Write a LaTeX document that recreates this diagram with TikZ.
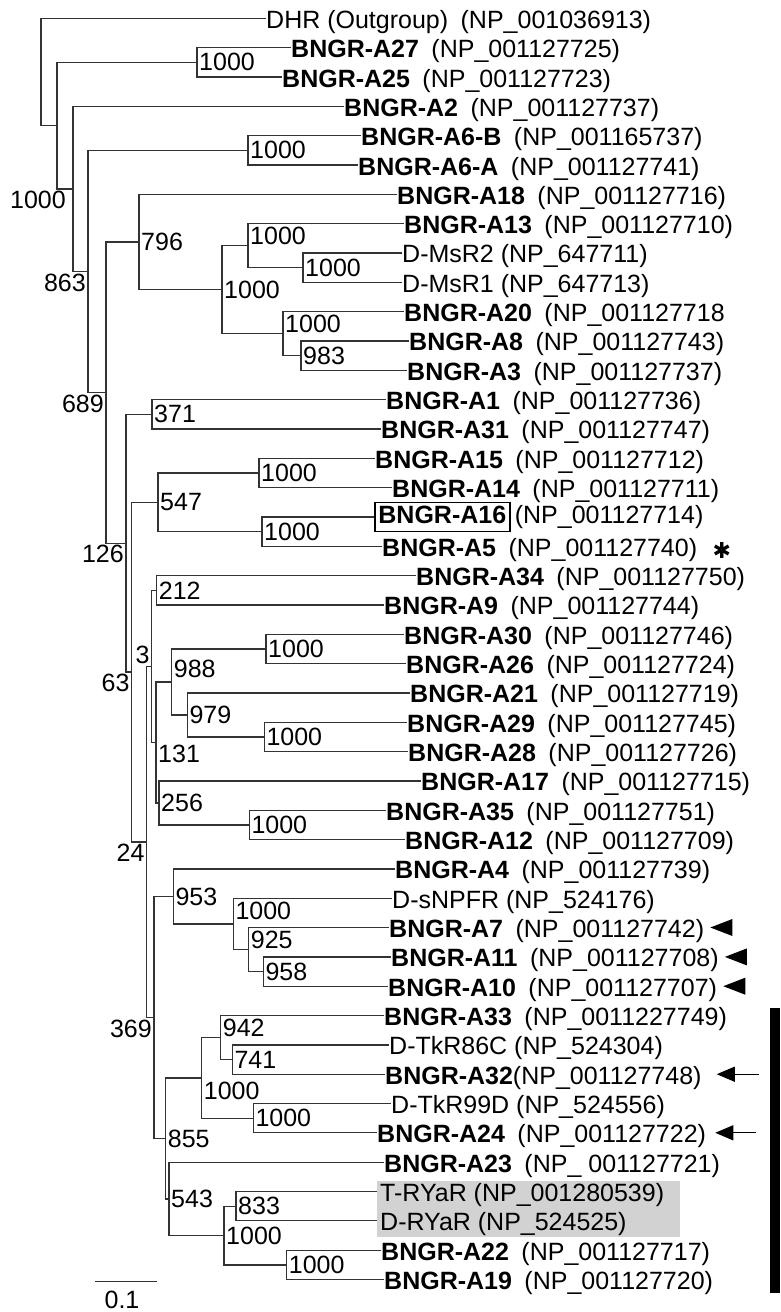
\documentclass[tikz,border=0pt]{standalone}
\usepackage{fontspec}
\setmainfont{Liberation Sans}
\newfontfamily\dejavu{DejaVu Sans}
\usetikzlibrary{positioning,arrows.meta}

\tikzset{
  branch/.style={draw=black!80, line width=1.3pt},
  leaf/.style={anchor=west, inner sep=0pt, text height=20pt, text depth=0pt},
  boot/.style={inner sep=2pt},
  tagged/.style={draw, line width=1.8pt, anchor=west, inner xsep=3.5pt, inner ysep=3.5pt, text height=18pt, text depth=4pt},
  pointer/.pic={\fill (0,0) -- (22,-8.5) -- (22,8.5) -- cycle;},
  mark arrow/.style={line width=1.3pt, -{Triangle[length=18pt,width=15pt]}},
}

\begin{document}
\begin{tikzpicture}[x=1pt,y=-1pt,font=\fontsize{25}{30}\selectfont]
  \useasboundingbox (0,0) rectangle (780,1312);
  \fill[gray!35] (377,1181) rectangle (680,1237);

  % leaves
  \node[leaf] (dhr) at (266,18.3) {DHR (Outgroup)\hspace{0.5em}(NP\_001036913)};
  \node[leaf] (a27) at (291,47.6) {\textbf{BNGR-A27}\hspace{0.5em}(NP\_001127725)};
  \node[leaf] (a25) at (282,77.0) {\textbf{BNGR-A25}\hspace{0.5em}(NP\_001127723)};
  \node[leaf] (a2) at (344,106.3) {\textbf{BNGR-A2}\hspace{0.5em}(NP\_001127737)};
  \node[leaf] (a6b) at (361,135.6) {\textbf{BNGR-A6-B}\hspace{0.5em}(NP\_001165737)};
  \node[leaf] (a6a) at (358,165.0) {\textbf{BNGR-A6-A}\hspace{0.5em}(NP\_001127741)};
  \node[leaf] (a18) at (397,194.3) {\textbf{BNGR-A18}\hspace{0.5em}(NP\_001127716)};
  \node[leaf] (a13) at (404,223.6) {\textbf{BNGR-A13}\hspace{0.5em}(NP\_001127710)};
  \node[leaf] (msr2) at (402,252.9) {D-MsR2 (NP\_647711)};
  \node[leaf] (msr1) at (402,282.3) {D-MsR1 (NP\_647713)};
  \node[leaf] (a20) at (404,311.6) {\textbf{BNGR-A20}\hspace{0.5em}(NP\_001127718};
  \node[leaf] (a8) at (409,340.9) {\textbf{BNGR-A8}\hspace{0.5em}(NP\_001127743)};
  \node[leaf] (a3) at (407,370.3) {\textbf{BNGR-A3}\hspace{0.5em}(NP\_001127737)};
  \node[leaf] (a1) at (386,399.6) {\textbf{BNGR-A1}\hspace{0.5em}(NP\_001127736)};
  \node[leaf] (a31) at (381,428.9) {\textbf{BNGR-A31}\hspace{0.5em}(NP\_001127747)};
  \node[leaf] (a15) at (375,458.3) {\textbf{BNGR-A15}\hspace{0.5em}(NP\_001127712)};
  \node[leaf] (a14) at (392,487.6) {\textbf{BNGR-A14}\hspace{0.5em}(NP\_001127711)};
  \node[tagged] (a16) at (374,516.9) {\textbf{BNGR-A16}};
  \node[leaf, base right=4pt of a16] (a16id) {(NP\_001127714)};
  \node[leaf] (a5) at (382,546.2) {\textbf{BNGR-A5}\hspace{0.5em}(NP\_001127740)};
  \node[leaf] (a34) at (416,575.6) {\textbf{BNGR-A34}\hspace{0.5em}(NP\_001127750)};
  \node[leaf] (a9) at (384,604.9) {\textbf{BNGR-A9}\hspace{0.5em}(NP\_001127744)};
  \node[leaf] (a30) at (404,634.2) {\textbf{BNGR-A30}\hspace{0.5em}(NP\_001127746)};
  \node[leaf] (a26) at (406,663.6) {\textbf{BNGR-A26}\hspace{0.5em}(NP\_001127724)};
  \node[leaf] (a21) at (410,692.9) {\textbf{BNGR-A21}\hspace{0.5em}(NP\_001127719)};
  \node[leaf] (a29) at (407,722.2) {\textbf{BNGR-A29}\hspace{0.5em}(NP\_001127745)};
  \node[leaf] (a28) at (408,751.6) {\textbf{BNGR-A28}\hspace{0.5em}(NP\_001127726)};
  \node[leaf] (a17) at (421,780.9) {\textbf{BNGR-A17}\hspace{0.5em}(NP\_001127715)};
  \node[leaf] (a35) at (386,810.2) {\textbf{BNGR-A35}\hspace{0.5em}(NP\_001127751)};
  \node[leaf] (a12) at (405,839.5) {\textbf{BNGR-A12}\hspace{0.5em}(NP\_001127709)};
  \node[leaf] (a4) at (395,868.9) {\textbf{BNGR-A4}\hspace{0.5em}(NP\_001127739)};
  \node[leaf] (snpfr) at (392,898.2) {D-sNPFR (NP\_524176)};
  \node[leaf] (a7) at (389,927.5) {\textbf{BNGR-A7}\hspace{0.5em}(NP\_001127742)};
  \node[leaf] (a11) at (391,956.9) {\textbf{BNGR-A11}\hspace{0.5em}(NP\_001127708)};
  \node[leaf] (a10) at (388,986.2) {\textbf{BNGR-A10}\hspace{0.5em}(NP\_001127707)};
  \node[leaf] (a33) at (384,1015.5) {\textbf{BNGR-A33}\hspace{0.5em}(NP\_0011227749)};
  \node[leaf] (tkr86c) at (389,1044.9) {D-TkR86C (NP\_524304)};
  \node[leaf] (a32) at (385,1074.2) {\textbf{BNGR-A32}(NP\_001127748)};
  \node[leaf] (tkr99d) at (391,1103.5) {D-TkR99D (NP\_524556)};
  \node[leaf] (a24) at (377,1132.8) {\textbf{BNGR-A24}\hspace{0.5em}(NP\_001127722)};
  \node[leaf] (a23) at (384,1162.2) {\textbf{BNGR-A23}\hspace{0.5em}(NP\_ 001127721)};
  \node[leaf, inner xsep=3pt] (trya) at (377,1191.5) {T-RYaR (NP\_001280539)};
  \node[leaf, inner xsep=3pt] (drya) at (377,1220.8) {D-RYaR (NP\_524525)};
  \node[leaf] (a22) at (381,1250.2) {\textbf{BNGR-A22}\hspace{0.5em}(NP\_001127717)};
  \node[leaf] (a19) at (384,1279.5) {\textbf{BNGR-A19}\hspace{0.5em}(NP\_001127720)};

  % internal nodes
  \coordinate (root) at (41,72);
  \coordinate (v1) at (57,125.6);
  \coordinate (v2) at (197,62.3);
  \coordinate (v1000r) at (73,188.9);
  \coordinate (v863) at (88,271.5);
  \coordinate (va6) at (248,150.3);
  \coordinate (v689) at (106,392.6);
  \coordinate (v796) at (139,242);
  \coordinate (vms) at (222,289.6);
  \coordinate (v13) at (248,245.6);
  \coordinate (vmsr) at (303,267.6);
  \coordinate (v20) at (283,333.6);
  \coordinate (v8) at (301,355.6);
  \coordinate (v126) at (126,543.2);
  \coordinate (v371) at (152,414.3);
  \coordinate (v63) at (131.7,672.1);
  \coordinate (v547) at (158,502.3);
  \coordinate (v15) at (259,473);
  \coordinate (v16) at (262,531.6);
  \coordinate (v24) at (146.7,841.9);
  \coordinate (v3) at (151.7,666.4);
  \coordinate (v212) at (156.7,590.3);
  \coordinate (v131) at (156,742.4);
  \coordinate (v988) at (171.7,681.9);
  \coordinate (v30) at (266,648.9);
  \coordinate (v979) at (187.3,714.9);
  \coordinate (v29) at (264.3,736.9);
  \coordinate (v256) at (159,802.9);
  \coordinate (v35) at (249.3,824.9);
  \coordinate (v369) at (154,1017.4);
  \coordinate (v953) at (173.3,896.4);
  \coordinate (v1000a) at (233.3,923.9);
  \coordinate (v925) at (248.7,949.6);
  \coordinate (v958) at (263.3,971.6);
  \coordinate (v855) at (165.7,1138.4);
  \coordinate (v1000b) at (201.7,1077.9);
  \coordinate (v942) at (220.7,1037.6);
  \coordinate (v741) at (232.3,1059.6);
  \coordinate (v99d) at (253.3,1118.2);
  \coordinate (v543) at (169,1198.9);
  \coordinate (v1000c) at (224,1235.5);
  \coordinate (v833) at (236,1206.2);
  \coordinate (v22) at (286.7,1264.9);

  % branches
  \draw[branch] (root) |- (dhr.west) (root) |- (v1);
  \draw[branch] (v1) |- (v2) (v1) |- (v1000r);
  \draw[branch] (v2) |- (a27.west) (v2) |- (a25.west);
  \draw[branch] (v1000r) |- (a2.west) (v1000r) |- (v863);
  \draw[branch] (v863) |- (va6) (v863) |- (v689);
  \draw[branch] (va6) |- (a6b.west) (va6) |- (a6a.west);
  \draw[branch] (v689) |- (v796) (v689) |- (v126);
  \draw[branch] (v796) |- (a18.west) (v796) |- (vms);
  \draw[branch] (vms) |- (v13) (vms) |- (v20);
  \draw[branch] (v13) |- (a13.west) (v13) |- (vmsr);
  \draw[branch] (vmsr) |- (msr2.west) (vmsr) |- (msr1.west);
  \draw[branch] (v20) |- (a20.west) (v20) |- (v8);
  \draw[branch] (v8) |- (a8.west) (v8) |- (a3.west);
  \draw[branch] (v126) |- (v371) (v126) |- (v63);
  \draw[branch] (v371) |- (a1.west) (v371) |- (a31.west);
  \draw[branch] (v63) |- (v547) (v63) |- (v24);
  \draw[branch] (v547) |- (v15) (v547) |- (v16);
  \draw[branch] (v15) |- (a15.west) (v15) |- (a14.west);
  \draw[branch] (v16) |- (a16.west) (v16) |- (a5.west);
  \draw[branch] (v24) |- (v3) (v24) |- (v369);
  \draw[branch] (v3) |- (v212) (v3) |- (v131);
  \draw[branch] (v212) |- (a34.west) (v212) |- (a9.west);
  \draw[branch] (v131) |- (v988) (v131) |- (v256);
  \draw[branch] (v988) |- (v30) (v988) |- (v979);
  \draw[branch] (v30) |- (a30.west) (v30) |- (a26.west);
  \draw[branch] (v979) |- (a21.west) (v979) |- (v29);
  \draw[branch] (v29) |- (a29.west) (v29) |- (a28.west);
  \draw[branch] (v256) |- (a17.west) (v256) |- (v35);
  \draw[branch] (v35) |- (a35.west) (v35) |- (a12.west);
  \draw[branch] (v369) |- (v953) (v369) |- (v855);
  \draw[branch] (v953) |- (a4.west) (v953) |- (v1000a);
  \draw[branch] (v1000a) |- (snpfr.west) (v1000a) |- (v925);
  \draw[branch] (v925) |- (a7.west) (v925) |- (v958);
  \draw[branch] (v958) |- (a11.west) (v958) |- (a10.west);
  \draw[branch] (v855) |- (v1000b) (v855) |- (v543);
  \draw[branch] (v1000b) |- (v942) (v1000b) |- (v99d);
  \draw[branch] (v942) |- (a33.west) (v942) |- (v741);
  \draw[branch] (v741) |- (tkr86c.west) (v741) |- (a32.west);
  \draw[branch] (v99d) |- (tkr99d.west) (v99d) |- (a24.west);
  \draw[branch] (v543) |- (a23.west) (v543) |- (v1000c);
  \draw[branch] (v1000c) |- (v833) (v1000c) |- (v22);
  \draw[branch] (v833) |- (trya.west) (v833) |- (drya.west);
  \draw[branch] (v22) |- (a22.west) (v22) |- (a19.west);

  % bootstrap values
  \node[boot, below left, xshift=-5pt] (b1000r) at (v1000r) {1000};
  \node[boot, below left] (b863) at (v863) {863};
  \node[boot, below left] (b689) at (v689) {689};
  \node[boot, below left] (b126) at (v126) {126};
  \node[boot, below left] (b63) at (v63) {63};
  \node[boot, above left] (b3) at (v3) {3};
  \node[boot, below left] (b24) at (v24) {24};
  \node[boot, below left] (b369) at (v369) {369};
  \node[boot, right] (b2) at (v2) {1000};
  \node[boot, right] (ba6) at (va6) {1000};
  \node[boot, right] (b796) at (v796) {796};
  \node[boot, right] (bms) at (vms) {1000};
  \node[boot, right, yshift=10pt] (b13) at (v13) {1000};
  \node[boot, right] (bmsr) at (vmsr) {1000};
  \node[boot, right, yshift=10pt] (b20) at (v20) {1000};
  \node[boot, right] (b8) at (v8) {983};
  \node[boot, right] (b371) at (v371) {371};
  \node[boot, right] (b547) at (v547) {547};
  \node[boot, right] (b15) at (v15) {1000};
  \node[boot, right] (b16) at (v16) {1000};
  \node[boot, right] (b212) at (v212) {212};
  \node[boot, right, yshift=-11pt] (b131) at (v131) {131};
  \node[boot, right, yshift=13pt] (b988) at (v988) {988};
  \node[boot, right] (b30) at (v30) {1000};
  \node[boot, right] (b979) at (v979) {979};
  \node[boot, right] (b29) at (v29) {1000};
  \node[boot, right] (b256) at (v256) {256};
  \node[boot, right] (b35) at (v35) {1000};
  \node[boot, right] (b953) at (v953) {953};
  \node[boot, right, yshift=13pt] (b1000a) at (v1000a) {1000};
  \node[boot, right, yshift=10pt] (b925) at (v925) {925};
  \node[boot, right] (b958) at (v958) {958};
  \node[boot, right] (b855) at (v855) {855};
  \node[boot, right, yshift=-13pt] (b1000b) at (v1000b) {1000};
  \node[boot, right, yshift=10pt] (b942) at (v942) {942};
  \node[boot, right] (b741) at (v741) {741};
  \node[boot, right] (b99d) at (v99d) {1000};
  \node[boot, right] (b543) at (v543) {543};
  \node[boot, right] (b1000c) at (v1000c) {1000};
  \node[boot, right] (b833) at (v833) {833};
  \node[boot, right] (b22) at (v22) {1000};

  % marks
  \node[font=\dejavu\fontsize{22}{22}\selectfont, inner sep=0pt, right=15pt of a5, yshift=-4pt] (star5) {✱};
  \pic at ([xshift=6pt]a7.east) {pointer};
  \pic at ([xshift=6pt]a11.east) {pointer};
  \pic at ([xshift=6pt]a10.east) {pointer};
  \coordinate (t32) at ([xshift=57pt]a32.east);
  \coordinate (t24) at ([xshift=50pt]a24.east);
  \draw[mark arrow] (t32) -- ([xshift=15pt]a32.east);
  \draw[mark arrow] (t24) -- ([xshift=9pt]a24.east);
  \fill (770,1008) rectangle (780,1293);

  % scale bar
  \coordinate (s0) at (95,1281.7);
  \coordinate (s1) at (157,1281.7);
  \draw[branch] (s0) -- (s1);
  \node (slab) at (122,1300) {0.1};
\end{tikzpicture}
\end{document}
